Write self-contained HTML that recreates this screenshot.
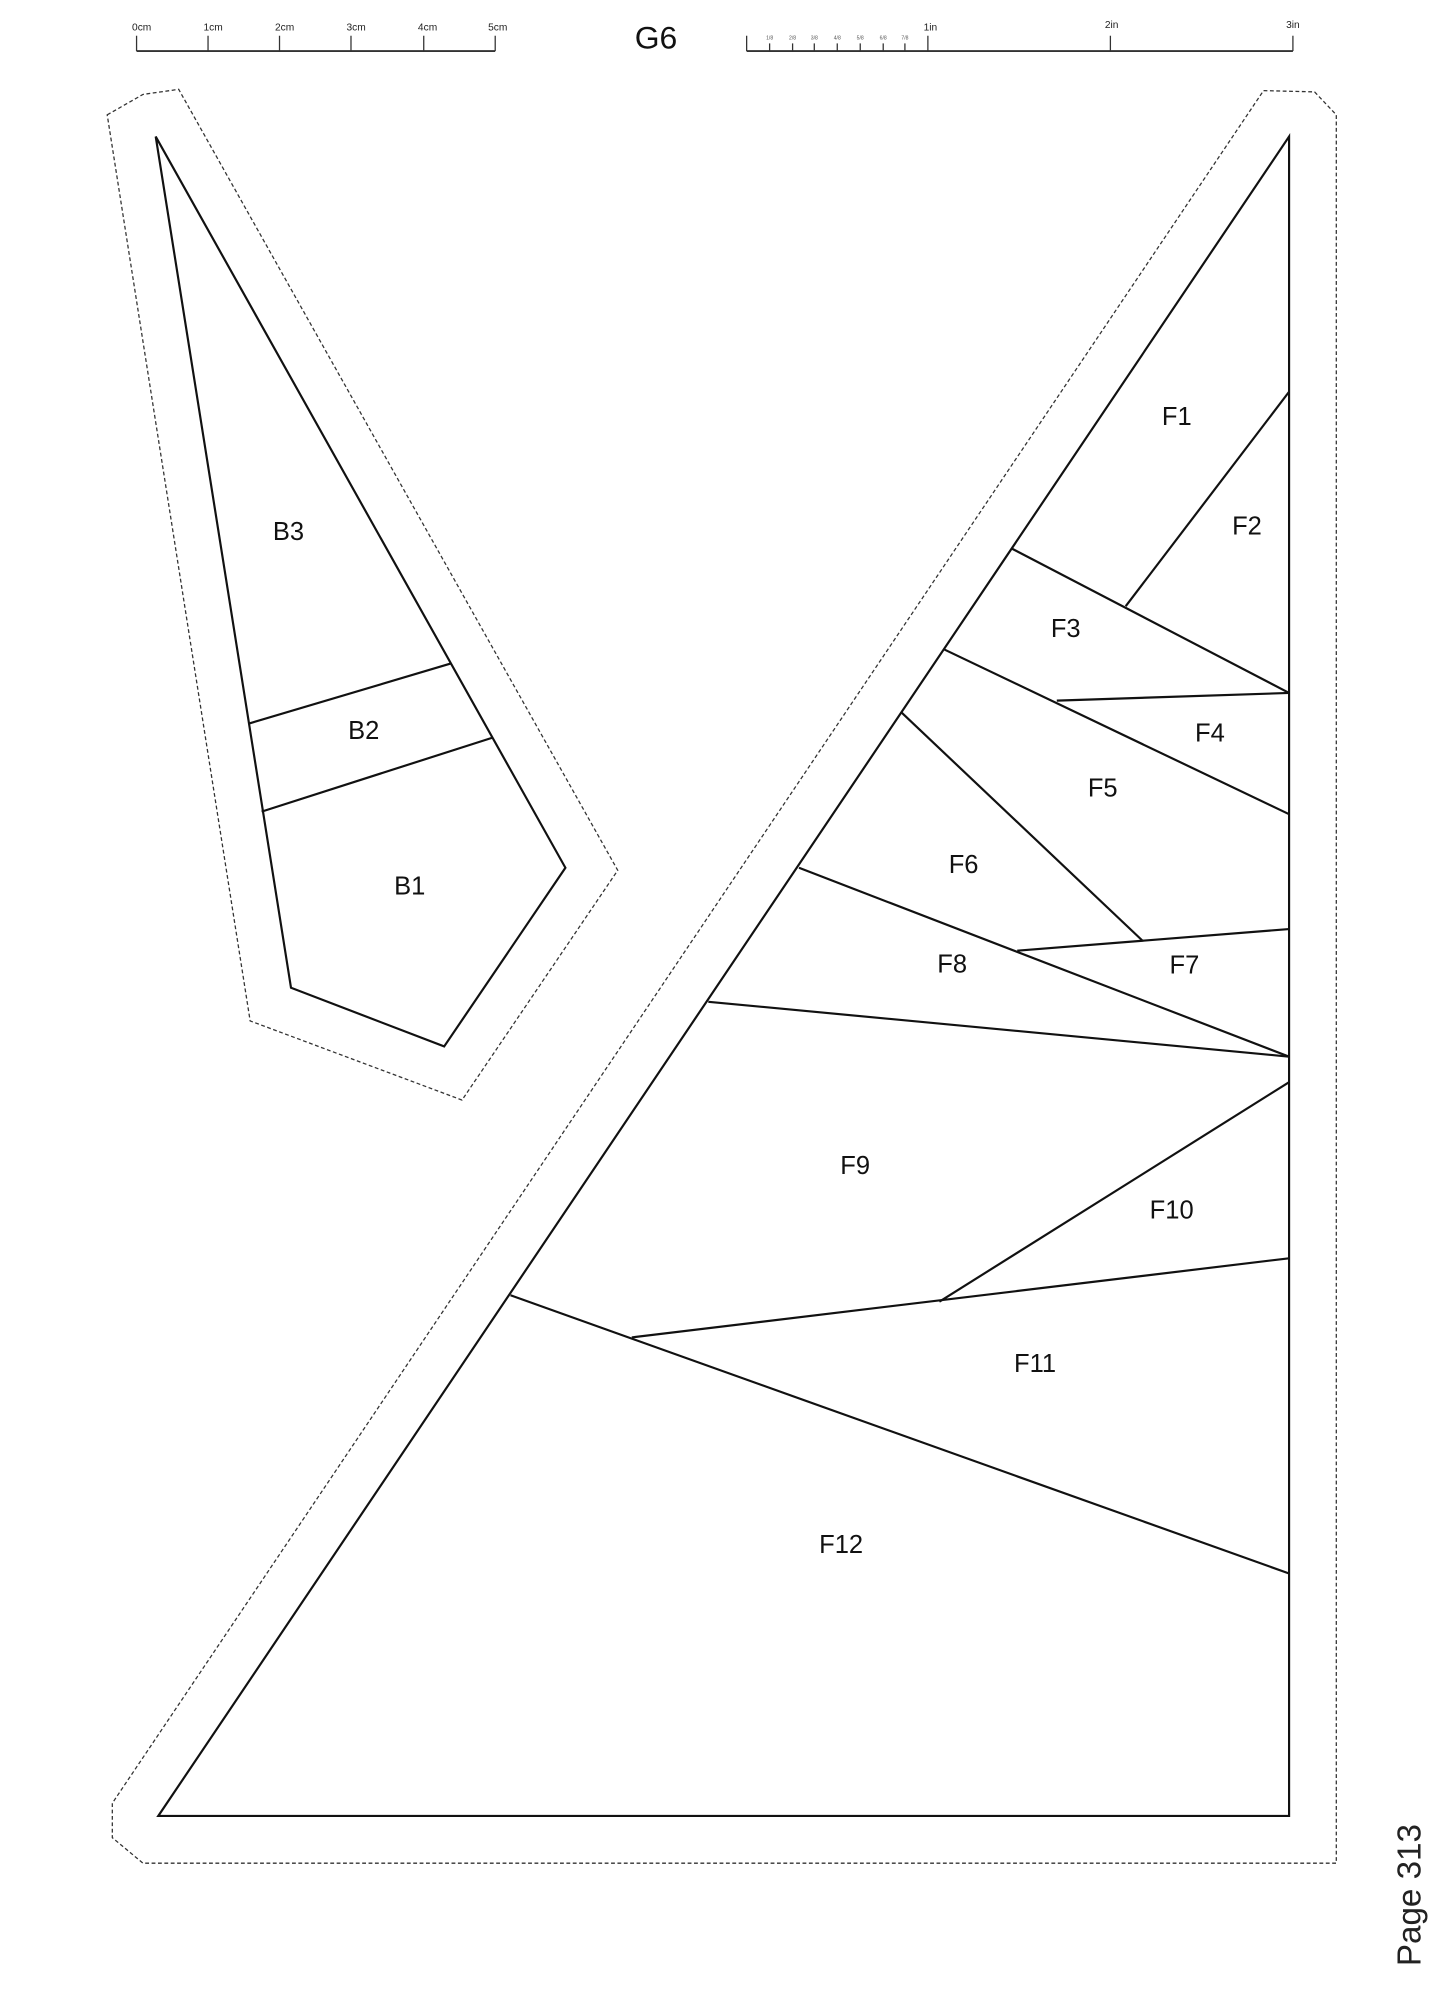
<!DOCTYPE html>
<html><head><style>html,body{margin:0;padding:0;background:#fff}svg{display:block}</style></head><body>
<svg width="1455" height="2001" viewBox="0 0 1140 1568" preserveAspectRatio="none" xmlns="http://www.w3.org/2000/svg" font-family="Liberation Sans, sans-serif">
<rect width="1140" height="1568" fill="#fff"/>
<g stroke="#333" stroke-width="1" fill="none">
<line x1="107" y1="40" x2="388" y2="40" stroke-width="1.5"/>
<line x1="107" y1="28" x2="107" y2="40"/><line x1="163" y1="28" x2="163" y2="40"/><line x1="219" y1="28" x2="219" y2="40"/><line x1="275" y1="28" x2="275" y2="40"/><line x1="332" y1="28" x2="332" y2="40"/><line x1="388" y1="28" x2="388" y2="40"/>
<line x1="585" y1="40" x2="1013" y2="40" stroke-width="1.5"/>
<line x1="585" y1="28" x2="585" y2="40"/><line x1="727" y1="28" x2="727" y2="40"/><line x1="870" y1="28" x2="870" y2="40"/><line x1="1013" y1="28" x2="1013" y2="40"/>
<line x1="603" y1="34" x2="603" y2="40"/><line x1="621" y1="34" x2="621" y2="40"/><line x1="638" y1="34" x2="638" y2="40"/><line x1="656" y1="34" x2="656" y2="40"/><line x1="674" y1="34" x2="674" y2="40"/><line x1="692" y1="34" x2="692" y2="40"/><line x1="709" y1="34" x2="709" y2="40"/>
</g>
<g font-size="8" fill="#222" text-anchor="middle">
<text x="111" y="24">0cm</text><text x="167" y="24">1cm</text><text x="223" y="24">2cm</text><text x="279" y="24">3cm</text><text x="335" y="24">4cm</text><text x="390" y="24">5cm</text>
<text x="729" y="24">1in</text><text x="871" y="22">2in</text><text x="1013" y="22">3in</text>
</g>
<g font-size="4" fill="#555" text-anchor="middle">
<text x="603" y="31">1/8</text><text x="621" y="31">2/8</text><text x="638" y="31">3/8</text><text x="656" y="31">4/8</text><text x="674" y="31">5/8</text><text x="692" y="31">6/8</text><text x="709" y="31">7/8</text>
</g>
<text x="514" y="38" font-size="25" text-anchor="middle" fill="#111">G6</text>
<g fill="none" stroke="#333" stroke-width="1" stroke-dasharray="3,2">
<polygon points="84,90 112,74 140,70 484,682 362,862 196,800"/>
<polygon points="990,71 1030,72 1047,90 1047,1460 112,1460 88,1440 88,1413"/>
</g>
<g fill="none" stroke="#111" stroke-width="1.7">
<polygon points="122,107 443,680 348,820 228,774"/>
<line x1="195" y1="567" x2="353" y2="520"/>
<line x1="205" y1="636" x2="386" y2="578"/>
<polygon points="1010,107 1010,1423 124,1423"/>
<line x1="1010" y1="307" x2="882" y2="475"/>
<line x1="793" y1="430" x2="1010" y2="543"/>
<line x1="828" y1="549" x2="1010" y2="543"/>
<line x1="740" y1="509" x2="1010" y2="638"/>
<line x1="706" y1="558" x2="895" y2="737"/>
<line x1="797" y1="745" x2="1010" y2="728"/>
<line x1="626" y1="680" x2="1010" y2="828"/>
<line x1="555" y1="785" x2="1010" y2="828"/>
<line x1="736" y1="1020" x2="1010" y2="848"/>
<line x1="495" y1="1048" x2="1010" y2="986"/>
<line x1="400" y1="1015" x2="1010" y2="1233"/>
</g>
<g font-size="20" fill="#111" text-anchor="middle">
<text x="226" y="423">B3</text><text x="285" y="579">B2</text><text x="321" y="701">B1</text>
<text x="922" y="333">F1</text><text x="977" y="419">F2</text><text x="835" y="499">F3</text><text x="948" y="581">F4</text><text x="864" y="624">F5</text><text x="755" y="684">F6</text><text x="928" y="763">F7</text><text x="746" y="762">F8</text><text x="670" y="920">F9</text><text x="918" y="955">F10</text><text x="811" y="1075">F11</text><text x="659" y="1217">F12</text>
</g>
<text transform="translate(1113,1485) rotate(-90)" font-size="26" text-anchor="middle" fill="#222">Page 313</text>
</svg>
</body></html>
